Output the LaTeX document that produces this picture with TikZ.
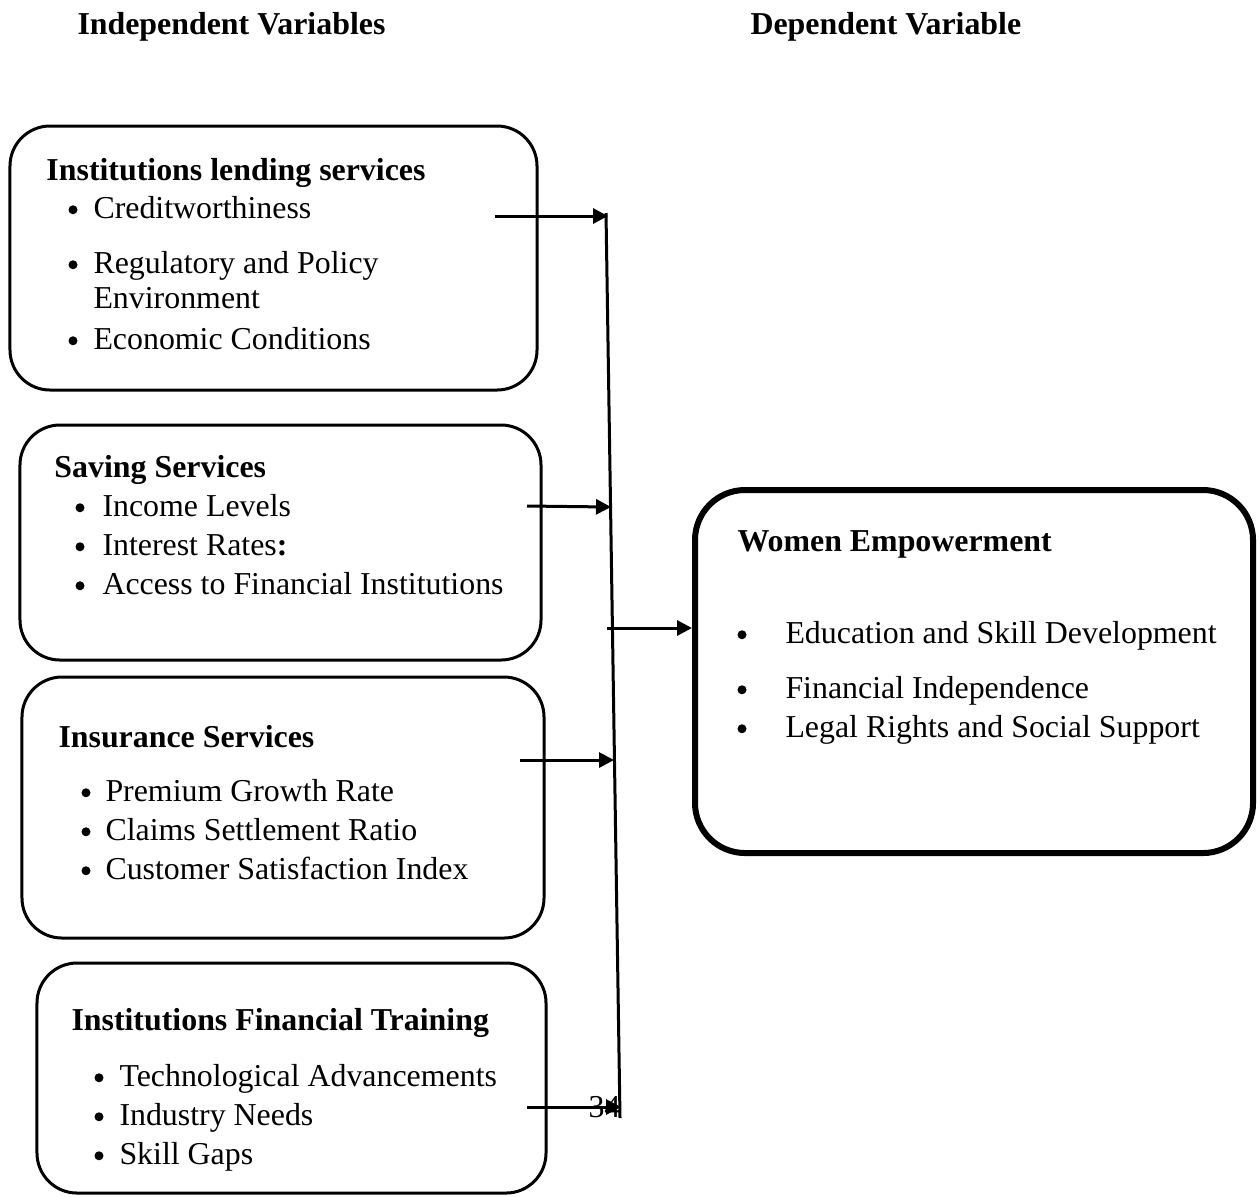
\documentclass[tikz,border=0pt]{standalone}
\usepackage{fontspec}
\setmainfont{Liberation Serif}
\usetikzlibrary{arrows.meta}

\begin{document}
\begin{tikzpicture}[x=0.4pt,y=-0.4pt,font=\fontsize{12.75}{15}\selectfont,
  vbox/.style={draw, rounded corners=16pt, line width=1.2pt, inner sep=0pt},
  title/.style={anchor=base west, inner sep=0pt, font=\fontsize{12.75}{15}\selectfont\bfseries},
  item/.style={anchor=base west, inner sep=0pt},
  dot/.style={circle, fill, inner sep=0pt, minimum size=3.6pt, yshift=3.3pt},
  arr/.style={line width=1.2pt, -{Triangle[length=6pt,width=6pt]}}]
\path[use as bounding box] (0,0) rectangle (1257,1196);

% headings
\node[title] (indep) at (77,34) {Independent Variables};
\node[title] (dep) at (750,34) {Dependent Variable};

% independent variable boxes
\node[vbox, minimum width=210.8pt, minimum height=105.6pt] (lend) at (273.5,258) {};
\node[title] (lendT) at (46,180) {Institutions lending services};
\node[dot] (lendB1) at (73,218) {};
\node[item] (lendI1) at (93,218) {Creditworthiness};
\node[dot] (lendB2) at (73,273) {};
\node[item] (lendI2) at (93,273) {Regulatory and Policy};
\node[item] (lendI2b) at (93,308) {Environment};
\node[dot] (lendB3) at (73,349) {};
\node[item] (lendI3) at (93,349) {Economic Conditions};

\node[vbox, minimum width=208.4pt, minimum height=94pt] (save) at (280.5,542.5) {};
\node[title] (saveT) at (54,477) {Saving Services};
\foreach \i/\y/\t in {1/516/Income Levels, 2/555/Interest Rates\textbf{:}, 3/594/Access to Financial Institutions} {
  \node[dot] (saveB\i) at (80,\y) {};
  \node[item] (saveI\i) at (102,\y) {\t};
}

\node[vbox, minimum width=208.8pt, minimum height=104.4pt] (insur) at (283,807.5) {};
\node[title] (insurT) at (58,747) {Insurance Services};
\foreach \i/\y/\t in {1/801/Premium Growth Rate, 2/840/Claims Settlement Ratio, 3/879/Customer Satisfaction Index} {
  \node[dot] (insurB\i) at (86,\y) {};
  \node[item] (insurI\i) at (105,\y) {\t};
}

\node[vbox, minimum width=203.6pt, minimum height=92pt] (train) at (291.5,1078) {};
\node[title] (trainT) at (71,1030) {Institutions Financial Training};
\foreach \i/\y/\t in {1/1086/Technological Advancements, 2/1125/Industry Needs, 3/1164/Skill Gaps} {
  \node[dot] (trainB\i) at (99,\y) {};
  \node[item] (trainI\i) at (119,\y) {\t};
}

% dependent variable box
\node[vbox, line width=2.4pt, rounded corners=20pt, minimum width=223.2pt, minimum height=145.2pt] (women) at (974,671.5) {};
\node[title] (womenT) at (737,551) {Women Empowerment};
\foreach \i/\y/\t in {1/643/Education and Skill Development, 2/698/Financial Independence, 3/737/Legal Rights and Social Support} {
  \node[dot] (womenB\i) at (742,\y) {};
  \node[item] (womenI\i) at (785,\y) {\t};
}

% page number
\node[item] (pageno) at (588,1117) {34};

% collecting line
\coordinate (busT) at (606,213);
\coordinate (busB) at (620,1118);
\draw[line width=1.2pt] (busT) -- (busB);

\coordinate (s1) at (495,216);
\coordinate (t1) at (608,216);
\coordinate (s2) at (527,506);
\coordinate (t2) at (611,507);
\coordinate (s3) at (607,628);
\coordinate (s4) at (520,760);
\coordinate (t4) at (614,760);
\coordinate (s5) at (527,1107);
\coordinate (t5) at (621,1107);

\draw[arr] (s1) -- (t1);
\draw[arr] (s2) -- (t2);
\draw[arr] (s3) -- (s3 -| women.west);
\draw[arr] (s4) -- (t4);
\draw[arr] (s5) -- (t5);
\end{tikzpicture}
\end{document}
